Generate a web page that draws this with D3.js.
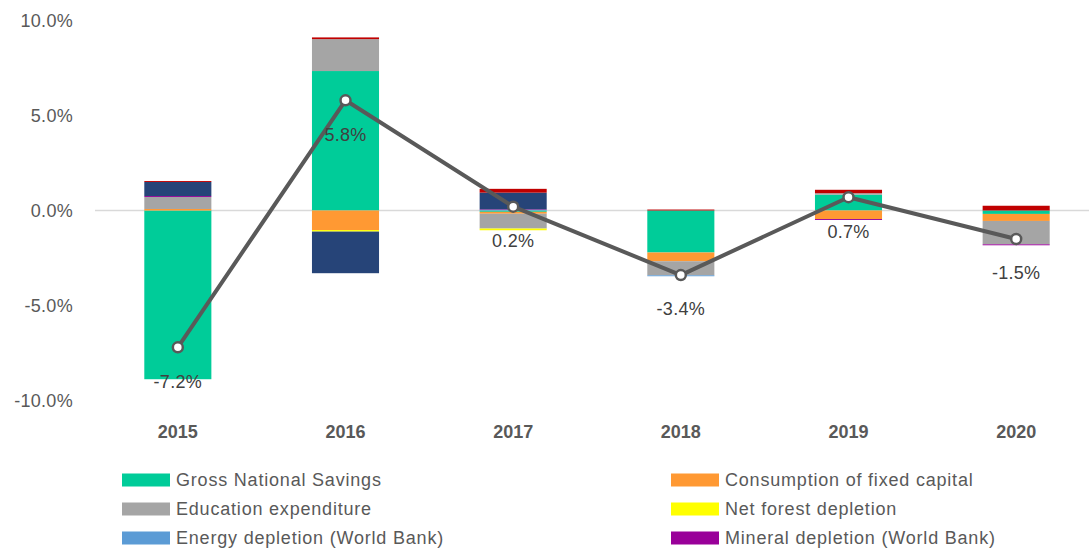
<!DOCTYPE html>
<html>
<head>
<meta charset="utf-8">
<script src="https://cdn.jsdelivr.net/npm/d3@7"></script>
<style>
  body { margin: 0; background: #fff; }
  svg { display: block; font-family: "Liberation Sans", Arial, sans-serif; }
</style>
</head>
<body>
<div id="chart"></div>
<script>
// data (percent)
const years = ['2015', '2016', '2017', '2018', '2019', '2020'];
const grossSavings = [-8.88, 7.34, -0.07, -2.21, 0.83, -0.18];
const fixedCapital = [0.08, -1.03, -0.10, -0.46, -0.45, -0.37];
const education = [0.63, 1.68, -0.78, -0.74, 0.08, -1.23];
const forestDepletion = [0, -0.08, -0.09, 0, 0, 0];
const energyDepletion = [0, 0, 0.03, -0.05, 0, 0];
const mineralDepletion = [0.05, 0, 0.03, 0, -0.05, -0.05];
const co2Damage = [0.74, -2.19, 0.88, 0, 0, 0];
const pmDamage = [0.05, 0.09, 0.2, 0.05, 0.18, 0.25];
const total = [-7.2, 5.8, 0.2, -3.4, 0.7, -1.5];
const yTicks = [-10, -5, 0, 5, 10];

const series = [
    { key: 'gns', name: 'Gross National Savings', color: '#00CC99', values: grossSavings, legend: true },
    { key: 'cfc', name: 'Consumption of fixed capital', color: '#FF9933', values: fixedCapital, legend: true },
    { key: 'edu', name: 'Education expenditure', color: '#A5A5A5', values: education, legend: true },
    { key: 'forest', name: 'Net forest depletion', color: '#FFFF00', values: forestDepletion, legend: true },
    { key: 'energy', name: 'Energy depletion (World Bank)', color: '#5B9BD5', values: energyDepletion, legend: true },
    { key: 'mineral', name: 'Mineral depletion (World Bank)', color: '#990099', values: mineralDepletion, legend: true },
    { key: 'co2', name: 'CO2 damage', color: '#264478', values: co2Damage, legend: false },
    { key: 'pm', name: 'PM damage', color: '#C00000', values: pmDamage, legend: false }
];

// hyphen instead of unicode minus, like the original
const pct = d => d3.format('.1f')(d).replace('\u2212', '-') + '%';

const width = 1089, height = 550;
const svg = d3.select('#chart').append('svg')
    .attr('width', width)
    .attr('height', height);

const x = d3.scaleBand()
    .domain(years)
    .range([94, 1100])
    .paddingInner(0.6)
    .paddingOuter(0.3);

const y = d3.scaleLinear()
    .domain([-10, 10])
    .range([400.5, 20.5]);

const rows = years.map((yr, i) => {
    const r = { year: yr };
    series.forEach(s => { r[s.key] = s.values[i]; });
    return r;
});

const stacked = d3.stack()
    .keys(series.map(s => s.key))
    .offset(d3.stackOffsetDiverging)(rows);

// y axis labels
svg.append('g')
    .selectAll('text')
    .data(yTicks)
    .join('text')
    .attr('x', 73)
    .attr('y', d => y(d))
    .attr('dy', '0.35em')
    .attr('text-anchor', 'end')
    .attr('fill', '#595959')
    .attr('font-size', '18px')
    .attr('letter-spacing', '0.3px')
    .text(pct);

// zero line
svg.append('line')
    .attr('x1', 95)
    .attr('x2', width)
    .attr('y1', y(0))
    .attr('y2', y(0))
    .attr('stroke', '#D9D9D9')
    .attr('stroke-width', 1.5);

// stacked bars
svg.append('g')
    .selectAll('g')
    .data(stacked)
    .join('g')
    .attr('fill', (d, i) => series[i].color)
    .selectAll('rect')
    .data(d => d)
    .join('rect')
    .attr('x', d => x(d.data.year))
    .attr('width', x.bandwidth())
    .attr('y', d => y(Math.max(d[0], d[1])))
    .attr('height', d => Math.abs(y(d[0]) - y(d[1])));

// x axis labels
svg.append('g')
    .selectAll('text')
    .data(years)
    .join('text')
    .attr('x', d => x(d) + x.bandwidth() / 2)
    .attr('y', 432)
    .attr('dy', '0.35em')
    .attr('text-anchor', 'middle')
    .attr('fill', '#595959')
    .attr('font-size', '18px')
    .attr('font-weight', 'bold')
    .text(d => d);

// total line
const line = d3.line()
    .x((d, i) => x(years[i]) + x.bandwidth() / 2)
    .y(d => y(d));

svg.append('path')
    .datum(total)
    .attr('d', line)
    .attr('fill', 'none')
    .attr('stroke', '#595959')
    .attr('stroke-width', 4)
    .attr('stroke-linejoin', 'round');

svg.append('g')
    .selectAll('circle')
    .data(total)
    .join('circle')
    .attr('cx', (d, i) => x(years[i]) + x.bandwidth() / 2)
    .attr('cy', d => y(d))
    .attr('r', 5)
    .attr('fill', '#fff')
    .attr('stroke', '#595959')
    .attr('stroke-width', 2.5);

svg.append('g')
    .selectAll('text')
    .data(total)
    .join('text')
    .attr('x', (d, i) => x(years[i]) + x.bandwidth() / 2)
    .attr('y', d => y(d) + 34)
    .attr('dy', '0.35em')
    .attr('text-anchor', 'middle')
    .attr('fill', '#404040')
    .attr('font-size', '18px')
    .attr('letter-spacing', '0.3px')
    .text(pct);

// legend
const legendItems = series.filter(s => s.legend);
const legend = svg.append('g')
    .selectAll('g')
    .data(legendItems)
    .join('g')
    .attr('transform', (d, i) => `translate(${i % 2 === 0 ? 122 : 671},${480 + Math.floor(i / 2) * 29})`);

legend.append('rect')
    .attr('x', 0)
    .attr('y', -6.5)
    .attr('width', 48)
    .attr('height', 13)
    .attr('fill', d => d.color);

legend.append('text')
    .attr('x', 54)
    .attr('dy', '0.35em')
    .attr('fill', '#595959')
    .attr('font-size', '18px')
    .attr('letter-spacing', '0.8px')
    .text(d => d.name);
</script>
</body>
</html>
